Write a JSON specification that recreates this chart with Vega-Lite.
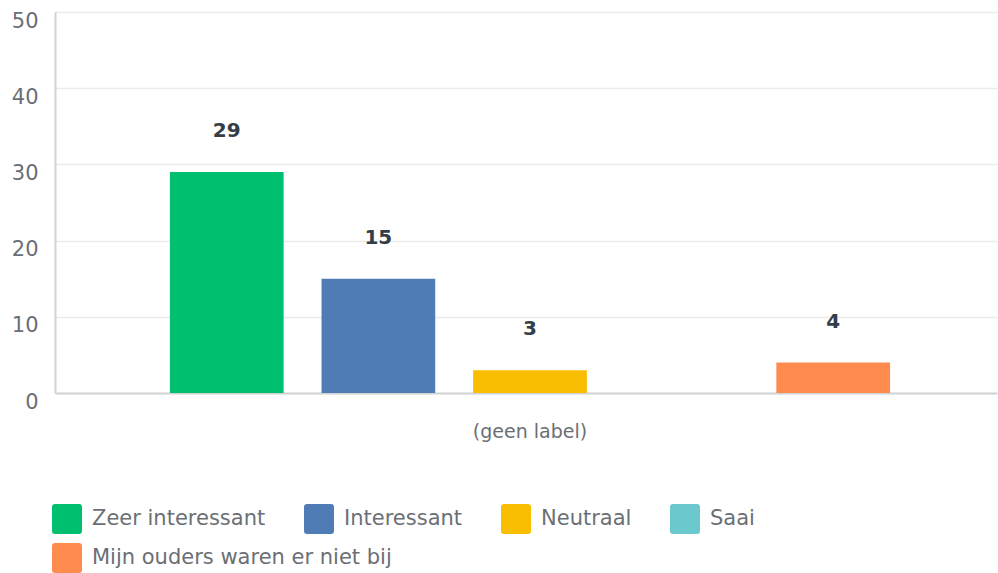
{
  "$schema": "https://vega.github.io/schema/vega-lite/v6.json",
  "autosize": {"type": "none"},
  "padding": {"left": 55, "top": 12, "right": 1, "bottom": 180},
  "width": 942,
  "height": 381,
  "config": {
    "font": "DejaVu Sans",
    "view": {"stroke": null},
    "axis": {"labelFont": "DejaVu Sans", "labelColor": "#6b6f75"},
    "legend": {"labelFont": "DejaVu Sans"}
  },
  "data": {
    "values": [
      {"group": "(geen label)", "answer": "Zeer interessant", "count": 29},
      {"group": "(geen label)", "answer": "Interessant", "count": 15},
      {"group": "(geen label)", "answer": "Neutraal", "count": 3},
      {"group": "(geen label)", "answer": "Saai", "count": 0},
      {"group": "(geen label)", "answer": "Mijn ouders waren er niet bij", "count": 4}
    ]
  },
  "encoding": {
    "x": {
      "field": "group",
      "type": "nominal",
      "scale": {"paddingOuter": 0.154, "paddingInner": 0, "align": 0.518},
      "axis": {
        "title": null,
        "labelAngle": 0,
        "ticks": false,
        "domainColor": "#d0d2d3",
        "domainWidth": 2,
        "labelPadding": 29,
        "labelFontSize": 19,
        "labelColor": "#6b6f75"
      }
    },
    "xOffset": {
      "field": "answer",
      "type": "nominal",
      "scale": {
        "domain": ["Zeer interessant", "Interessant", "Neutraal", "Saai", "Mijn ouders waren er niet bij"],
        "paddingInner": 0.25,
        "paddingOuter": 0
      }
    },
    "y": {
      "field": "count",
      "type": "quantitative",
      "scale": {"domain": [0, 50]},
      "axis": {
        "title": null,
        "values": [0, 10, 20, 30, 40, 50],
        "ticks": false,
        "domainColor": "#d0d2d3",
        "domainWidth": 2,
        "gridColor": "#ebebeb",
        "gridWidth": 1.5,
        "labelPadding": 17,
        "labelFontSize": 21,
        "labelBaseline": "middle",
        "labelOffset": 9
      }
    }
  },
  "layer": [
    {
      "transform": [{"filter": "datum.answer != 'Mijn ouders waren er niet bij'"}],
      "mark": {"type": "bar"},
      "encoding": {
        "color": {
          "field": "answer",
          "type": "nominal",
          "scale": {
            "domain": ["Zeer interessant", "Interessant", "Neutraal", "Saai"],
            "range": ["#00bf6f", "#507cb6", "#f9be00", "#6bc8cd"]
          },
          "legend": {
            "title": null,
            "orient": "none",
            "legendX": -3,
            "legendY": 492,
            "direction": "horizontal",
            "columnPadding": 38,
            "symbolType": "M -0.8 -1 H 0.8 Q 1 -1 1 -0.8 V 0.8 Q 1 1 0.8 1 H -0.8 Q -1 1 -1 0.8 V -0.8 Q -1 -1 -0.8 -1 Z",
            "symbolSize": 900,
            "symbolOpacity": 1,
            "symbolStrokeWidth": 0,
            "labelFontSize": 21,
            "labelColor": "#6b6f75",
            "labelOffset": 10,
            "labelLimit": 400
          }
        }
      }
    },
    {
      "transform": [{"filter": "datum.answer == 'Mijn ouders waren er niet bij'"}],
      "mark": {"type": "bar"},
      "encoding": {
        "fill": {
          "field": "answer",
          "type": "nominal",
          "scale": {
            "domain": ["Mijn ouders waren er niet bij"],
            "range": ["#ff8b4f"]
          },
          "legend": {
            "title": null,
            "orient": "none",
            "legendX": -3,
            "legendY": 531,
            "direction": "horizontal",
            "symbolType": "M -0.8 -1 H 0.8 Q 1 -1 1 -0.8 V 0.8 Q 1 1 0.8 1 H -0.8 Q -1 1 -1 0.8 V -0.8 Q -1 -1 -0.8 -1 Z",
            "symbolSize": 900,
            "symbolOpacity": 1,
            "symbolStrokeWidth": 0,
            "labelFontSize": 21,
            "labelColor": "#6b6f75",
            "labelOffset": 10,
            "labelLimit": 400
          }
        }
      }
    },
    {
      "transform": [{"filter": "datum.count > 0"}],
      "mark": {"type": "text", "baseline": "middle", "dy": -41, "fontSize": 20, "fontWeight": "bold", "color": "#333e48"},
      "encoding": {
        "text": {"field": "count", "type": "quantitative"}
      }
    }
  ]
}
